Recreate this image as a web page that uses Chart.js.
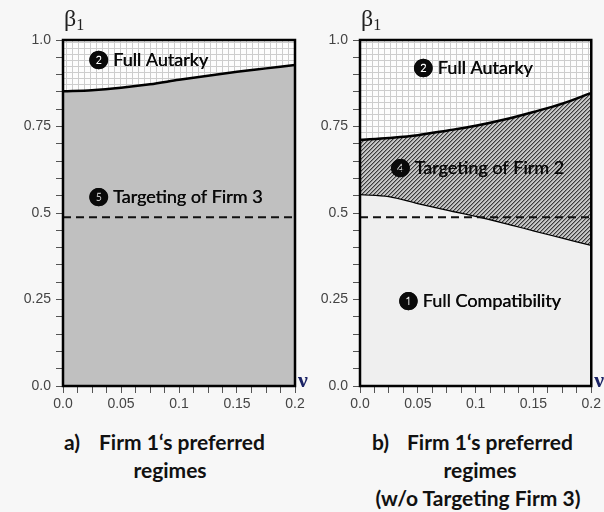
<!DOCTYPE html>
<html>
<head>
<meta charset="utf-8">
<script src="https://cdn.jsdelivr.net/npm/chart.js@4.4.1/dist/chart.umd.min.js"></script>
<style>
  html, body { margin: 0; padding: 0; background: #f7f7f7; }
  #wrap { position: relative; width: 604px; height: 512px; overflow: hidden; background: #f7f7f7; }
  canvas { position: absolute; top: 0; }
  #cA { left: 0; z-index: 1; }
  #cB { left: 300px; z-index: 2; }
  .cap { position: absolute; font-family: Lato, "Open Sans", sans-serif; font-weight: 700; font-size: 21px; color: #111; white-space: pre; line-height: 28px; }
  .ctr { text-align: center; width: 240px; }
</style>
</head>
<body>
<div id="wrap">
  <canvas id="cA" width="320" height="420"></canvas>
  <canvas id="cB" width="304" height="420"></canvas>
  <div class="cap" style="left:64px; top:428px;">a)</div>
  <div class="cap" style="left:99px; top:428px;">Firm 1‘s preferred</div>
  <div class="cap ctr" style="left:50px; top:456px;">regimes</div>
  <div class="cap" style="left:372px; top:428px;">b)</div>
  <div class="cap" style="left:407px; top:428px;">Firm 1‘s preferred</div>
  <div class="cap ctr" style="left:360px; top:456px;">regimes</div>
  <div class="cap ctr" style="left:358px; top:484px;">(w/o Targeting Firm 3)</div>
</div>
<script>
// Cost parameter nu along the horizontal axis
const nu = [0, 0.025, 0.05, 0.075, 0.1, 0.125, 0.15, 0.175, 0.2];

// Panel a: boundary between Full Autarky and Targeting of Firm 3
const autarkyBoundaryA = [0.852, 0.855, 0.862, 0.872, 0.885, 0.897, 0.908, 0.918, 0.928];

// Panel b: boundary between Full Autarky and Targeting of Firm 2
const autarkyBoundaryB = [0.711, 0.717, 0.725, 0.738, 0.752, 0.770, 0.792, 0.816, 0.847];
// Panel b: boundary between Targeting of Firm 2 and Full Compatibility
const compatBoundaryB = [0.555, 0.549, 0.529, 0.510, 0.492, 0.472, 0.450, 0.429, 0.408];

// Reference level of beta_1 (dashed line)
const betaRef = [0.488, 0.488];
const betaRefNu = [0, 0.2];

// Tick labels
const xTickLabels = ['0.0', '0.05', '0.1', '0.15', '0.2'];
const yTickLabels = ['0.0', '0.25', '0.5', '0.75', '1.0'];

// Region names
const regionsA = ['❷ Full Autarky', '❺ Targeting of Firm 3'];
const regionsB = ['❷ Full Autarky', '❹ Targeting of Firm 2', '❶ Full Compatibility'];

function pts(xs, ys) { return xs.map((x, i) => ({ x: x, y: ys[i] })); }

function makePattern(size, draw) {
  const c = document.createElement('canvas');
  c.width = size; c.height = size;
  const g = c.getContext('2d');
  draw(g, size);
  return document.getElementById('cA').getContext('2d').createPattern(c, 'repeat');
}

// light square grid (autarky region)
const gridPattern = makePattern(6, (g, s) => {
  g.fillStyle = '#fdfdfd'; g.fillRect(0, 0, s, s);
  g.fillStyle = '#cdcdcd';
  g.fillRect(0, 0, s, 1);
  g.fillRect(0, 0, 1, s);
});
// diagonal hatching (targeting of firm 2)
const hatchPattern = makePattern(4, (g, s) => {
  g.fillStyle = '#c6c6c6'; g.fillRect(0, 0, s, s);
  for (let i = 0; i < s; i++) {
    g.fillStyle = '#3a3a3a'; g.fillRect(i, s - 1 - i, 1, 1);
    g.fillStyle = '#8e8e8e'; g.fillRect((i + 1) % s, s - 1 - i, 1, 1);
  }
});

const tickFont = { family: '"Liberation Sans", Arial, sans-serif', size: 14 };

function scalesFor(yWidth) {
  return {
    x: {
      type: 'linear', min: 0, max: 0.2,
      afterFit: s => { s.height = 30; },
      ticks: {
        stepSize: 0.0125, autoSkip: false, maxRotation: 0, padding: 3,
        color: '#444', font: tickFont,
        callback: v => { const k = Math.round(v * 80); return k % 4 === 0 ? xTickLabels[k / 4] : ''; }
      },
      grid: { drawOnChartArea: false, drawTicks: true, tickLength: 7, color: '#555', lineWidth: 1 },
      border: { display: true, color: '#000', width: 2 }
    },
    y: {
      type: 'linear', min: 0, max: 1,
      afterFit: s => { s.width = yWidth; },
      ticks: {
        stepSize: 0.05, autoSkip: false, padding: 5,
        color: '#444', font: tickFont,
        callback: v => { const k = Math.round(v * 20); return k % 5 === 0 ? yTickLabels[k / 5] : ''; }
      },
      grid: { drawOnChartArea: false, drawTicks: true, tickLength: 7, color: '#555', lineWidth: 1 },
      border: { display: true, color: '#000', width: 2 }
    }
  };
}

// Fills chart area with the grid pattern, frames it and writes labels
function panelPlugin(labels, placements) {
  return {
    id: 'panel',
    beforeDatasetsDraw(chart) {
      const { ctx, chartArea: a } = chart;
      ctx.save();
      ctx.fillStyle = gridPattern;
      ctx.fillRect(a.left, a.top, a.right - a.left, a.bottom - a.top);
      ctx.restore();
    },
    afterDatasetsDraw(chart) {
      const { ctx, chartArea: a, scales } = chart;
      ctx.save();
      ctx.strokeStyle = '#000'; ctx.lineWidth = 2.5;
      ctx.strokeRect(a.left, a.top, a.right - a.left, a.bottom - a.top);
      ctx.fillStyle = '#0a0a0a';
      ctx.textBaseline = 'middle'; ctx.textAlign = 'left';
      ctx.font = '18px Lato, "DejaVu Sans", sans-serif';
      labels.forEach((t, i) => {
        const p = placements[i];
        const x = scales.x.getPixelForValue(p[0]), y = scales.y.getPixelForValue(p[1]);
        ctx.fillText(t, x, y);
        ctx.fillText(t, x + 0.4, y);
      });
      // axis names
      ctx.fillStyle = '#222';
      ctx.textBaseline = 'alphabetic';
      ctx.font = '24px "Liberation Serif", "DejaVu Serif", serif';
      ctx.fillText('β', a.left + 1, a.top - 14);
      const bw = ctx.measureText('β').width;
      ctx.font = '16px "Liberation Serif", "DejaVu Serif", serif';
      ctx.fillText('1', a.left + 1 + bw, a.top - 10);
      ctx.fillStyle = '#1c2466';
      ctx.font = 'bold 22px "Liberation Serif", "DejaVu Serif", serif';
      ctx.fillText('ν', a.right + 3, a.bottom + 1);
      ctx.restore();
    }
  };
}

const common = {
  responsive: false, animation: false,
  plugins: { legend: { display: false }, tooltip: { enabled: false } },
  elements: { point: { radius: 0 } }
};

const curve = { borderColor: '#000', borderWidth: 2.5, cubicInterpolationMode: 'monotone', pointRadius: 0 };
const dashed = { borderColor: '#111', borderWidth: 2, borderDash: [8, 5], pointRadius: 0, fill: false };

new Chart(document.getElementById('cA'), {
  type: 'line',
  data: {
    datasets: [
      Object.assign({ data: pts(betaRefNu, betaRef) }, dashed),
      Object.assign({ data: pts(nu, autarkyBoundaryA), fill: 'origin', backgroundColor: '#c0c0c0' }, curve)
    ]
  },
  options: Object.assign({}, common, {
    layout: { padding: { top: 40, left: 0, right: 25, bottom: 4 } },
    scales: scalesFor(63)
  }),
  plugins: [panelPlugin(regionsA, [[0.022, 0.942], [0.022, 0.546]])]
});

new Chart(document.getElementById('cB'), {
  type: 'line',
  data: {
    datasets: [
      Object.assign({ data: pts(betaRefNu, betaRef) }, dashed),
      Object.assign({ data: pts(nu, autarkyBoundaryB), fill: '+1', backgroundColor: hatchPattern }, curve),
      Object.assign({ data: pts(nu, compatBoundaryB), fill: 'origin', backgroundColor: '#efefef' }, curve)
    ]
  },
  options: Object.assign({}, common, {
    layout: { padding: { top: 40, left: 0, right: 12, bottom: 4 } },
    scales: scalesFor(60)
  }),
  plugins: [panelPlugin(regionsB, [[0.046, 0.919], [0.026, 0.63], [0.033, 0.244]])]
});
</script>
</body>
</html>
